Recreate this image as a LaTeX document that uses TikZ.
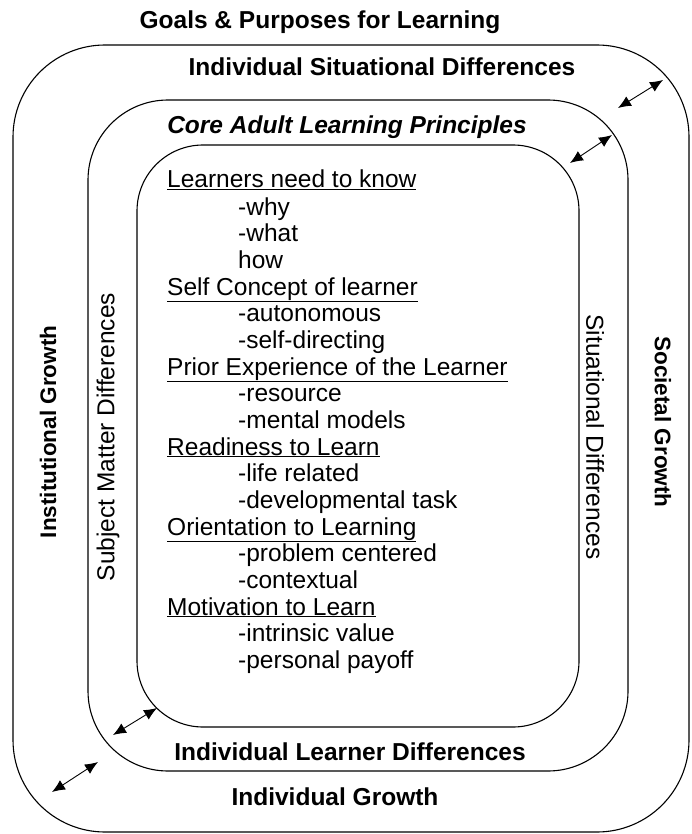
\documentclass[tikz,border=0pt]{standalone}
\usepackage{fontspec}
\setmainfont{Liberation Sans}
\usetikzlibrary{arrows.meta}

\begin{document}
\begin{tikzpicture}[x=1pt, y=-1pt,
  >={Latex[length=13pt,width=11pt]},
  txt/.style={font=\fontsize{24.5}{28}\selectfont, inner sep=0pt},
  bold/.style={font=\fontsize{24.5}{28}\selectfont\bfseries, inner sep=0pt},
  item/.style={txt, anchor=west, text height=18pt, text depth=6pt},
  ring/.style={line width=1.1pt, rounded corners=#1},
  link/.style={<->, line width=0.9pt}]

\useasboundingbox (0,0) rectangle (692,834);

% the three rings
\draw [ring=92pt] (13,45) rectangle (689,832);
\draw [ring=80pt] (88,100) rectangle (628,771);
\draw [ring=66pt] (137,145) rectangle (579,727);

% ring titles
\node [bold] (goals) at (320,22) {Goals \& Purposes for Learning};
\node [bold] (isd) at (382,67) {Individual Situational Differences};
\node [bold, font=\fontsize{24.5}{28}\selectfont\bfseries\itshape] (core) at (347,127) {Core Adult Learning Principles};
\node [bold] (ild) at (350,752) {Individual Learner Differences};
\node [bold] (igr) at (335,797) {Individual Growth};

% side labels
\node [bold, rotate=90, font=\fontsize{22.5}{26}\selectfont\bfseries] (inst) at (48,432) {Institutional Growth};
\node [txt, rotate=90] (smd) at (108,437) {Subject Matter Differences};
\node [txt, rotate=-90] (sitd) at (595,437) {Situational Differences};
\node [bold, rotate=-90, font=\fontsize{22.5}{26}\selectfont\bfseries] (soc) at (663,422) {Societal Growth};

% principles
\node [item] (p1) at (167,182) {\underline{Learners need to know}};
\node [item] (p1a) at (238,209) {-why};
\node [item] (p1b) at (238,235) {-what};
\node [item] (p1c) at (238,262) {how};
\node [item] (p2) at (167,289) {\underline{Self Concept of learner}};
\node [item] (p2a) at (238,315) {-autonomous};
\node [item] (p2b) at (238,342) {-self-directing};
\node [item] (p3) at (167,369) {\underline{Prior Experience of the Learner}};
\node [item] (p3a) at (238,395) {-resource};
\node [item] (p3b) at (238,422) {-mental models};
\node [item] (p4) at (167,449) {\underline{Readiness to Learn}};
\node [item] (p4a) at (238,475) {-life related};
\node [item] (p4b) at (238,502) {-developmental task};
\node [item] (p5) at (167,529) {\underline{Orientation to Learning}};
\node [item] (p5a) at (238,555) {-problem centered};
\node [item] (p5b) at (238,582) {-contextual};
\node [item] (p6) at (167,609) {\underline{Motivation to Learn}};
\node [item] (p6a) at (238,635) {-intrinsic value};
\node [item] (p6b) at (238,662) {-personal payoff};

% arrows between the rings
\coordinate (ta1) at (570,163);
\coordinate (ta2) at (612,135);
\coordinate (tb1) at (618,108);
\coordinate (tb2) at (663,80);
\coordinate (ba1) at (157,708);
\coordinate (ba2) at (113,735);
\coordinate (bb1) at (98,762);
\coordinate (bb2) at (52,792);
\draw [link] (ta1) -- (ta2);
\draw [link] (tb1) -- (tb2);
\draw [link] (ba1) -- (ba2);
\draw [link] (bb1) -- (bb2);

\end{tikzpicture}
\end{document}
